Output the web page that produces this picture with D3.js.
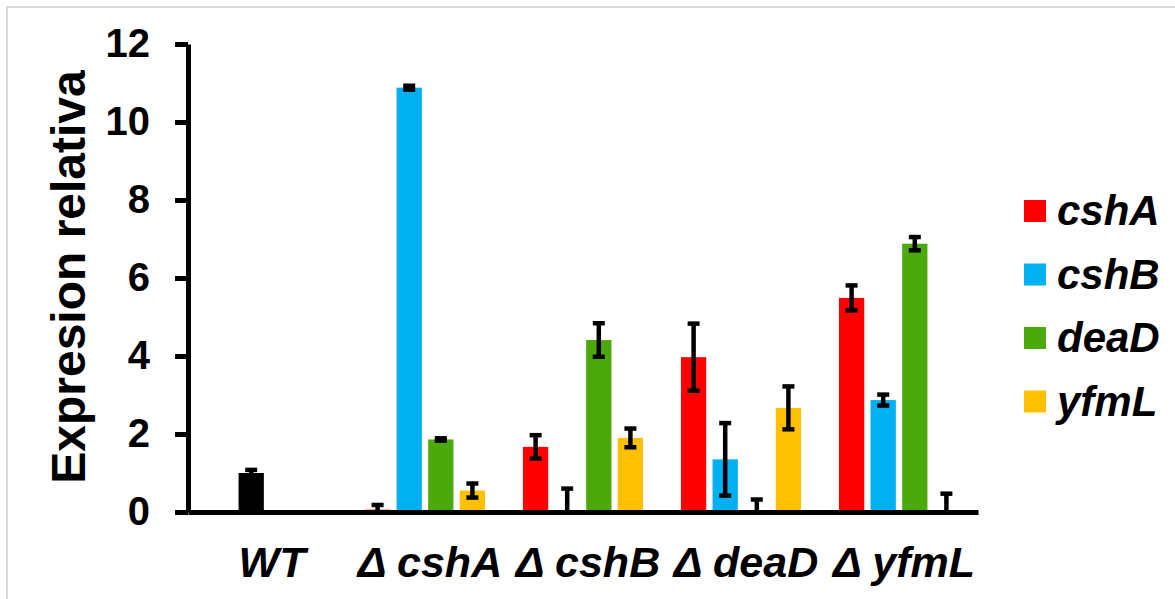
<!DOCTYPE html>
<html>
<head>
<meta charset="utf-8">
<script src="https://cdn.jsdelivr.net/npm/d3@7"></script>
<style>
  body { margin: 0; background: #fff; }
  text { font-family: "Liberation Sans", Arial, sans-serif; font-weight: bold; }
</style>
</head>
<body>
<script>
const width = 1175, height = 599;

// groups and genes
const categories = ["WT", "Δ cshA", "Δ cshB", "Δ deaD", "Δ yfmL"];
const genes = ["cshA", "cshB", "deaD", "yfmL"];
const colors = ["#FF0000", "#00B0F0", "#4CA90C", "#FFC000"];

// relative expression per gene (null = no bar), WT group holds only the black reference bar
const cshA = [null, 0.06, 1.67, 3.97, 5.49];
const cshB = [null, 10.88, 0, 1.35, 2.87];
const deaD = [null, 1.86, 4.41, 0, 6.88];
const yfmL = [null, 0.55, 1.9, 2.67, 0];
const cshAErr = [null, 0.12, 0.3, 0.86, 0.32];
const cshBErr = [null, 0.05, 0.6, 0.93, 0.14];
const deaDErr = [null, 0.03, 0.43, 0.32, 0.17];
const yfmLErr = [null, 0.18, 0.24, 0.55, 0.47];
const wtValue = 1.0, wtErr = 0.08;

const yTicks = [0, 2, 4, 6, 8, 10, 12];

const values = [cshA, cshB, deaD, yfmL];
const errs = [cshAErr, cshBErr, deaDErr, yfmLErr];

const svg = d3.select("body").append("svg")
    .attr("width", width)
    .attr("height", height);

// light frame
svg.append("rect")
    .attr("x", 7).attr("y", 7)
    .attr("width", width + 20).attr("height", height + 20)
    .attr("fill", "none")
    .attr("stroke", "#d9d9d9")
    .attr("stroke-width", 2);

const y = d3.scaleLinear().domain([0, 12]).range([512, 44]);
const x0 = d3.scaleBand().domain(categories).range([188, 978])
    .paddingInner(0.2).paddingOuter(0.1);
const x1 = d3.scaleBand().domain(genes).range([0, x0.bandwidth()])
    .paddingInner(0.2).paddingOuter(0.1);

// flatten into bar records
var bars = [];
categories.forEach(function(c, i) {
  genes.forEach(function(g, j) {
    if (values[j][i] != null) {
      bars.push({cat: c, gene: g, v: values[j][i], e: errs[j][i], color: colors[j]});
    }
  });
});
// WT reference bar sits in the second slot
bars.push({cat: "WT", gene: "cshB", v: wtValue, e: wtErr, color: "#000"});

svg.append("g").selectAll("rect")
  .data(bars)
  .join("rect")
    .attr("x", d => x0(d.cat) + x1(d.gene))
    .attr("y", d => y(d.v))
    .attr("width", x1.bandwidth())
    .attr("height", d => y(0) - y(d.v))
    .attr("fill", d => d.color);

// error bars
const capW = 12;
const eb = svg.append("g")
    .attr("stroke", "#000")
    .attr("stroke-width", 4.5);

bars.forEach(function(d) {
  var cx = x0(d.cat) + x1(d.gene) + x1.bandwidth() / 2;
  var lo = Math.max(0, d.v - d.e), hi = d.v + d.e;
  eb.append("line")
    .attr("x1", cx).attr("x2", cx)
    .attr("y1", y(lo)).attr("y2", y(hi));
  eb.append("line")
    .attr("x1", cx - capW / 2).attr("x2", cx + capW / 2)
    .attr("y1", y(hi)).attr("y2", y(hi));
  if (d.v - d.e > 0) {
    eb.append("line")
      .attr("x1", cx - capW / 2).attr("x2", cx + capW / 2)
      .attr("y1", y(lo)).attr("y2", y(lo));
  }
});

// y axis
const yAxis = svg.append("g")
    .attr("transform", "translate(188,0)")
    .call(d3.axisLeft(y).tickValues(yTicks).tickSize(13).tickSizeOuter(0).tickPadding(25));
yAxis.select(".domain").attr("stroke-width", 5);
yAxis.selectAll(".tick line").attr("stroke-width", 5);
yAxis.selectAll(".tick text")
    .attr("font-size", 40)
    .attr("font-family", "Liberation Sans, Arial, sans-serif")
    .attr("font-weight", "bold")
    .attr("fill", "#000");

// x axis
const xAxis = svg.append("g")
    .attr("transform", "translate(0,512)")
    .call(d3.axisBottom(x0).tickSize(0).tickSizeOuter(0));
xAxis.select(".domain").attr("stroke-width", 5);
xAxis.selectAll(".tick text")
    .attr("y", 65)
    .attr("dy", 0)
    .attr("dx", 5)
    .attr("font-size", 43)
    .attr("font-style", "italic")
    .attr("font-family", "Liberation Sans, Arial, sans-serif")
    .attr("font-weight", "bold")
    .attr("fill", "#000");

// y title
svg.append("text")
    .attr("transform", "translate(85,277) rotate(-90)")
    .attr("text-anchor", "middle")
    .attr("font-size", 48)
    .attr("fill", "#000")
    .text("Expresion relativa");

// legend
const legend = svg.append("g").selectAll("g")
  .data(genes)
  .join("g")
    .attr("transform", (d, i) => "translate(1024," + (211 + i * 63.5) + ")");
legend.append("rect")
    .attr("x", 0).attr("y", -11)
    .attr("width", 22).attr("height", 22)
    .attr("fill", (d, i) => colors[i]);
legend.append("text")
    .attr("x", 33)
    .attr("y", 14)
    .attr("font-size", 42)
    .attr("font-style", "italic")
    .attr("fill", "#000")
    .text(d => d);
</script>
</body>
</html>
